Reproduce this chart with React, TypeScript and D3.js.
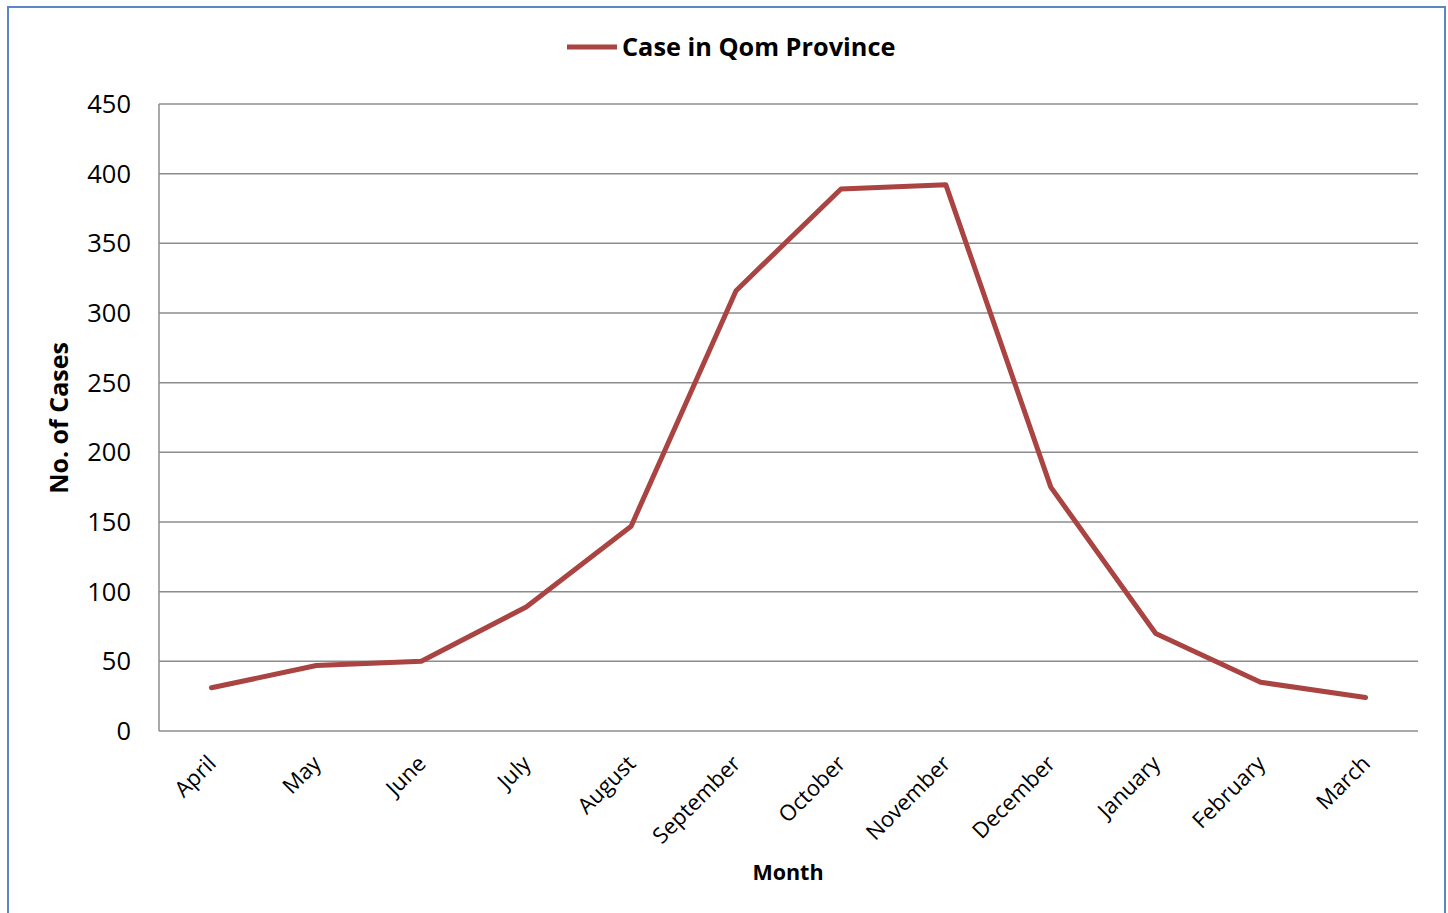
import React from "react";
import * as d3 from "d3";

const months = ["April","May","June","July","August","September","October","November","December","January","February","March"];
const cases = [31, 47, 50, 89, 147, 316, 389, 392, 175, 70, 35, 24];
const yTicks = [0, 50, 100, 150, 200, 250, 300, 350, 400, 450];
const seriesName = "Case in Qom Province";

export default function App() {
  const W = 1448, H = 913;
  const left = 159, right = 1418, top = 104, bottom = 731;
  const x = d3.scaleBand<string>().domain(months).range([left, right]);
  const y = d3.scaleLinear().domain([0, 450]).range([bottom, top]);
  const line = d3.line<number>().x((_, i) => x(months[i])! + x.bandwidth() / 2).y(d => y(d));
  const font = "Open Sans, Calibri, sans-serif";
  return (
    <svg width={W} height={H} style={{ position: "absolute", left: 0, top: 0 }} fontFamily={font}>
      <rect x={0} y={0} width={W} height={H} fill="#fff" />
      <rect x={8} y={7} width={1437} height={920} fill="none" stroke="#5b87c5" strokeWidth={2} />
      {yTicks.map(t => (
        <g key={t}>
          <line x1={left} x2={right} y1={y(t)} y2={y(t)} stroke="#8c8c8c" strokeWidth={1.5} />
          <text x={131} y={y(t)} dy="0.35em" textAnchor="end" fontSize={25.5} fill="#000">{t}</text>
        </g>
      ))}
      <line x1={left} x2={left} y1={top} y2={bottom} stroke="#8c8c8c" strokeWidth={1.5} />
      {months.map(m => {
        const cx = x(m)! + x.bandwidth() / 2;
        return (
          <text key={m} transform={`translate(${cx - 5},${754}) rotate(-45)`} textAnchor="end" dy="0.7em" fontSize={22} fill="#000">{m}</text>
        );
      })}
      <path d={line(cases) ?? ""} fill="none" stroke="#a94442" strokeWidth={5} strokeLinejoin="round" strokeLinecap="round" />
      <line x1={567} x2={617} y1={47} y2={47} stroke="#a94442" strokeWidth={5} />
      <text x={622} y={47} dy="0.35em" fontSize={25.3} fontWeight="bold" fill="#000">{seriesName}</text>
      <text x={788} y={872} dy="0.35em" textAnchor="middle" fontSize={21.5} fontWeight="bold" fill="#000">Month</text>
      <text transform={`translate(59,418) rotate(-90)`} dy="0.35em" textAnchor="middle" fontSize={25} fontWeight="bold" fill="#000">No. of Cases</text>
    </svg>
  );
}
